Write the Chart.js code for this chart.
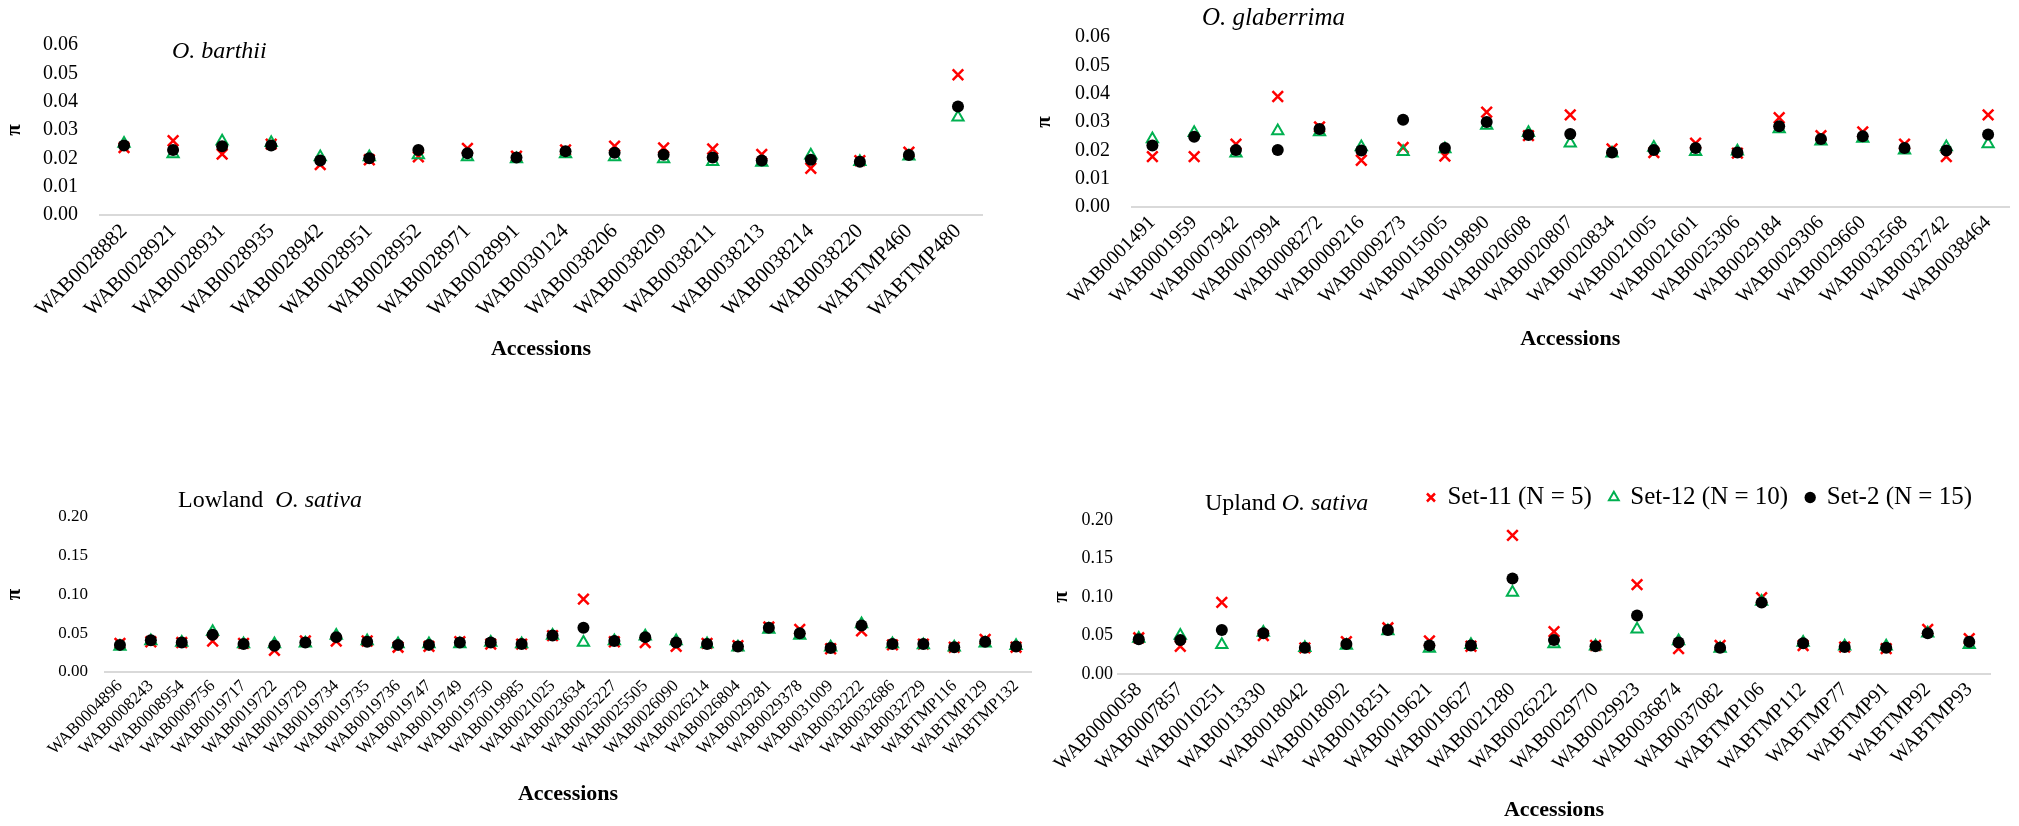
<!DOCTYPE html>
<html>
<head>
<meta charset="utf-8">
<script src="https://cdn.jsdelivr.net/npm/chart.js@4.4.1/dist/chart.umd.min.js"></script>
<style>
  html, body { margin: 0; padding: 0; background: #fff; }
  body { width: 2019px; height: 826px; position: relative; overflow: hidden;
         font-family: 'Liberation Serif', 'Times New Roman', serif; }
  .box { position: absolute; }
  .ttl { position: absolute; font-size: 24px; line-height: 24px; color: #000; white-space: pre; }
</style>
</head>
<body>
<div class="box" style="left:0;top:0;width:1000px;height:365px"><canvas id="barthii"></canvas></div>
<div class="box" style="left:1029px;top:0;width:990px;height:355px"><canvas id="glaberrima"></canvas></div>
<div class="box" style="left:0;top:420px;width:1045px;height:390px"><canvas id="lowland"></canvas></div>
<div class="box" style="left:1010px;top:420px;width:1009px;height:406px"><canvas id="upland"></canvas></div>

<div class="ttl" style="left:172px;top:38px"><i>O. barthii</i></div>
<div class="ttl" style="left:1202px;top:5px;font-size:25px"><i>O. glaberrima</i></div>
<div class="ttl" style="left:178px;top:487px">Lowland  <i>O. sativa</i></div>
<div class="ttl" style="left:1205px;top:490px">Upland <i>O. sativa</i></div>

<script>
// O. barthii
const barthiiAcc = ['WAB0028882', 'WAB0028921', 'WAB0028931', 'WAB0028935', 'WAB0028942', 'WAB0028951',
    'WAB0028952', 'WAB0028971', 'WAB0028991', 'WAB0030124', 'WAB0038206', 'WAB0038209', 'WAB0038211',
    'WAB0038213', 'WAB0038214', 'WAB0038220', 'WABTMP460', 'WABTMP480'];
const barthiiSet11 = [0.0238, 0.0262, 0.0215, 0.0250, 0.0178, 0.0195, 0.0205, 0.0235, 0.0208, 0.0230,
    0.0243, 0.0237, 0.0233, 0.0214, 0.0165, 0.0192, 0.0222, 0.0495];
const barthiiSet12 = [0.0252, 0.0215, 0.0260, 0.0255, 0.0205, 0.0205, 0.0212, 0.0205, 0.0198, 0.0215,
    0.0205, 0.0198, 0.0188, 0.0185, 0.0211, 0.0188, 0.0207, 0.0345];
const barthiiSet2 = [0.0245, 0.0229, 0.0243, 0.0245, 0.0192, 0.0200, 0.0229, 0.0218, 0.0203, 0.0225,
    0.0220, 0.0213, 0.0203, 0.0192, 0.0195, 0.0188, 0.0212, 0.0383];

// O. glaberrima
const glabAcc = ['WAB0001491', 'WAB0001959', 'WAB0007942', 'WAB0007994', 'WAB0008272', 'WAB0009216',
    'WAB0009273', 'WAB0015005', 'WAB0019890', 'WAB0020608', 'WAB0020807', 'WAB0020834', 'WAB0021005',
    'WAB0021601', 'WAB0025306', 'WAB0029184', 'WAB0029306', 'WAB0029660', 'WAB0032568', 'WAB0032742',
    'WAB0038464'];
const glabSet11 = [0.0178, 0.0178, 0.0222, 0.0390, 0.0283, 0.0165, 0.0210, 0.0180, 0.0335, 0.0252,
    0.0325, 0.0205, 0.0192, 0.0225, 0.0190, 0.0315, 0.0252, 0.0265, 0.0222, 0.0178, 0.0325];
const glabSet12 = [0.0240, 0.0262, 0.0190, 0.0268, 0.0265, 0.0212, 0.0195, 0.0205, 0.0288, 0.0262,
    0.0225, 0.0190, 0.0210, 0.0195, 0.0197, 0.0275, 0.0232, 0.0242, 0.0200, 0.0212, 0.0222];
const glabSet2 = [0.0217, 0.0248, 0.0201, 0.0201, 0.0275, 0.0199, 0.0308, 0.0208, 0.0300, 0.0254,
    0.0258, 0.0192, 0.0201, 0.0208, 0.0192, 0.0285, 0.0240, 0.0250, 0.0208, 0.0199, 0.0256];

// Lowland O. sativa
const lowAcc = ['WAB0004896', 'WAB0008243', 'WAB0008954', 'WAB0009756', 'WAB0019717', 'WAB0019722',
    'WAB0019729', 'WAB0019734', 'WAB0019735', 'WAB0019736', 'WAB0019747', 'WAB0019749', 'WAB0019750',
    'WAB0019985', 'WAB0021025', 'WAB0023634', 'WAB0025227', 'WAB0025505', 'WAB0026090', 'WAB0026214',
    'WAB0026804', 'WAB0029281', 'WAB0029378', 'WAB0031009', 'WAB0032222', 'WAB0032686', 'WAB0032729',
    'WABTMP116', 'WABTMP129', 'WABTMP132'];
const lowSet11 = [0.037, 0.039, 0.038, 0.040, 0.037, 0.028, 0.040, 0.040, 0.040, 0.032, 0.033, 0.039,
    0.036, 0.036, 0.047, 0.094, 0.039, 0.038, 0.033, 0.037, 0.034, 0.058, 0.055, 0.030, 0.053, 0.035,
    0.036, 0.032, 0.042, 0.032];
const lowSet12 = [0.033, 0.040, 0.038, 0.052, 0.036, 0.036, 0.037, 0.047, 0.040, 0.036, 0.036, 0.036,
    0.038, 0.036, 0.047, 0.038, 0.040, 0.046, 0.040, 0.036, 0.032, 0.055, 0.047, 0.032, 0.062, 0.036,
    0.035, 0.032, 0.037, 0.034];
const lowSet2 = [0.035, 0.041, 0.038, 0.048, 0.036, 0.034, 0.038, 0.045, 0.039, 0.035, 0.035, 0.038,
    0.038, 0.036, 0.047, 0.057, 0.040, 0.045, 0.038, 0.036, 0.033, 0.057, 0.050, 0.031, 0.060, 0.036,
    0.036, 0.032, 0.039, 0.033];

// Upland O. sativa
const upAcc = ['WAB0000058', 'WAB0007857', 'WAB0010251', 'WAB0013330', 'WAB0018042', 'WAB0018092',
    'WAB0018251', 'WAB0019621', 'WAB0019627', 'WAB0021280', 'WAB0026222', 'WAB0029770', 'WAB0029923',
    'WAB0036874', 'WAB0037082', 'WABTMP106', 'WABTMP112', 'WABTMP77', 'WABTMP91', 'WABTMP92', 'WABTMP93'];
const upSet11 = [0.047, 0.036, 0.093, 0.050, 0.034, 0.042, 0.060, 0.043, 0.036, 0.180, 0.055, 0.037,
    0.116, 0.033, 0.037, 0.099, 0.037, 0.035, 0.033, 0.058, 0.046];
const upSet12 = [0.046, 0.050, 0.038, 0.054, 0.034, 0.037, 0.056, 0.033, 0.038, 0.106, 0.039, 0.036,
    0.058, 0.043, 0.033, 0.094, 0.041, 0.036, 0.036, 0.053, 0.038];
const upSet2 = [0.045, 0.044, 0.057, 0.053, 0.034, 0.039, 0.057, 0.037, 0.037, 0.124, 0.044, 0.036,
    0.076, 0.041, 0.034, 0.093, 0.040, 0.035, 0.034, 0.053, 0.042];

Chart.defaults.font.family = "'Liberation Serif', 'Times New Roman', serif";
Chart.defaults.color = '#000';

function buildChart(id, labels, set11, set12, set2, o) {
    new Chart(document.getElementById(id), {
        type: 'line',
        data: {
            labels: labels,
            datasets: [{
                label: 'Set-11 (N = 5)',
                data: set11,
                showLine: false,
                pointStyle: 'crossRot',
                pointRadius: 7.5,
                pointBorderWidth: 2.5,
                borderColor: '#ff0000',
                backgroundColor: '#ff0000',
                order: 2
            }, {
                label: 'Set-12 (N = 10)',
                data: set12,
                showLine: false,
                pointStyle: 'triangle',
                pointRadius: 6.5,
                pointBorderWidth: 2,
                borderColor: '#00b050',
                backgroundColor: 'rgba(255,255,255,0)',
                order: 1
            }, {
                label: 'Set-2 (N = 15)',
                data: set2,
                showLine: false,
                pointStyle: 'circle',
                pointRadius: 6,
                pointBorderWidth: 0,
                borderColor: '#000000',
                backgroundColor: '#000000',
                order: 0 // black dots on top
            }]
        },
        options: {
            responsive: true,
            maintainAspectRatio: false,
            animation: false,
            events: [],
            layout: { padding: o.padding },
            plugins: {
                tooltip: { enabled: false },
                legend: {
                    display: !!o.legend,
                    position: 'top',
                    align: 'end',
                    labels: {
                        usePointStyle: true,
                        boxWidth: 8,
                        boxHeight: 8,
                        padding: 18,
                        color: '#000',
                        font: { size: 25 },
                        sort: (a, b) => a.datasetIndex - b.datasetIndex
                    }
                }
            },
            scales: {
                x: {
                    type: 'category',
                    offset: true,
                    grid: { display: false, drawTicks: false },
                    border: { display: true, color: '#d9d9d9', width: 2 },
                    ticks: { autoSkip: false, minRotation: 45, maxRotation: 45, padding: 4,
                             font: { size: o.xFont }, color: '#000' },
                    title: { display: true, text: 'Accessions', color: '#000',
                             font: { size: 22, weight: 'bold' }, padding: { top: 0, bottom: 2 } },
                    afterFit: s => { s.height = o.xHeight; }
                },
                y: {
                    min: 0,
                    max: o.yMax,
                    grid: { display: false, drawTicks: false },
                    border: { display: false },
                    ticks: { stepSize: o.yStep, padding: o.yPad, font: { size: o.yFont }, color: '#000',
                             callback: v => v.toFixed(2) },
                    title: { display: true, text: 'π', color: '#000',
                             font: { size: 21, weight: 'bold' }, padding: { top: 0, bottom: 0 } },
                    afterFit: s => { s.width = o.yWidth; }
                }
            }
        }
    });
}

buildChart('barthii', barthiiAcc, barthiiSet11, barthiiSet12, barthiiSet2, {
    padding: { left: 2.4, top: 45, right: 17.5, bottom: 0 },
    yWidth: 97.1, xHeight: 150, yPad: 21.5, yFont: 20, xFont: 21, yMax: 0.06, yStep: 0.01
});
buildChart('glaberrima', glabAcc, glabSet11, glabSet12, glabSet2, {
    padding: { left: 3.4, top: 37, right: 5, bottom: 0 },
    yWidth: 99.1, xHeight: 148, yPad: 21.5, yFont: 20, xFont: 20, yMax: 0.06, yStep: 0.01
});
buildChart('lowland', lowAcc, lowSet11, lowSet12, lowSet2, {
    padding: { left: 2.4, top: 97, right: 13.5, bottom: 0 },
    yWidth: 102.1, xHeight: 138, yPad: 16.5, yFont: 17, xFont: 17, yMax: 0.2, yStep: 0.05
});
buildChart('upland', upAcc, upSet11, upSet12, upSet2, {
    padding: { left: 39.4, top: 47, right: 29, bottom: 0 },
    yWidth: 68.6, xHeight: 152, yPad: 5, yFont: 18, xFont: 20, yMax: 0.2, yStep: 0.05, legend: true
});
</script>
</body>
</html>
